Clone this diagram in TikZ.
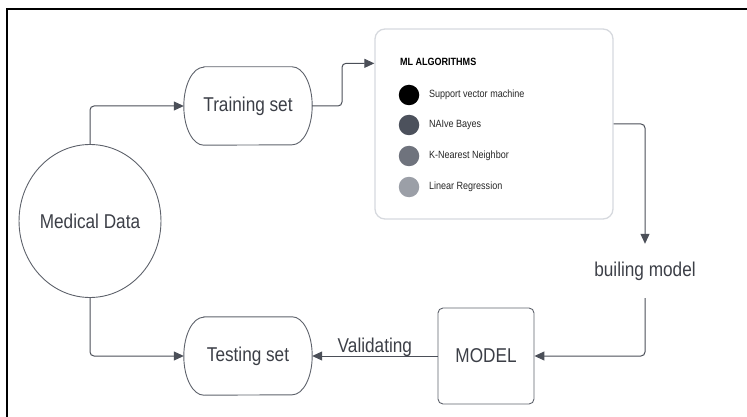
\documentclass[tikz,border=0pt]{standalone}
\usepackage{fontspec}
\setmainfont{Liberation Sans}[FakeStretch=0.86]
\usetikzlibrary{arrows.meta,shapes.geometric,calc}
\definecolor{txt}{HTML}{3C3F47}
\definecolor{ln}{HTML}{4B4F58}
\definecolor{bd}{HTML}{5E626B}
\definecolor{light}{HTML}{D6D9DE}
\definecolor{cA}{HTML}{000000}
\definecolor{cB}{HTML}{4C515C}
\definecolor{cC}{HTML}{6F737D}
\definecolor{cD}{HTML}{9B9FA7}
\begin{document}
\begin{tikzpicture}[x=1pt,y=-1pt,
  lbl/.style={font=\fontsize{20pt}{24pt}\selectfont, text=txt},
  small/.style={font=\fontsize{10.5pt}{12pt}\selectfont, text=black!85, anchor=west},
  mltitle/.style={font=\fontsize{10.5pt}{12pt}\selectfont\bfseries, text=black, anchor=west},
  dot/.style={circle, minimum size=20.5pt, inner sep=0pt},
  arr/.style={draw=ln, line width=1pt, -{Triangle[length=10pt,width=9pt]}, rounded corners=4pt},
  stadium/.style={draw=bd, line width=0.9pt},
  plainbox/.style={lbl, minimum width=128pt, minimum height=78pt, inner sep=0pt}]
\useasboundingbox (0,0) rectangle (747,417);
\draw[line width=2.5pt] (7,417) -- (7,9) -- (747,9);

% nodes
\node[lbl, draw=bd, line width=0.9pt, ellipse, minimum width=127pt, minimum height=153pt, inner sep=0pt] (med) at (90,221) {Medical Data};
\node[plainbox] (train) at (248,106) {Training set};
\node[plainbox] (test) at (248,356) {Testing set};
\foreach \n in {train,test}{
  \draw[stadium] ([xshift=20pt]\n.north west) -- ([xshift=-20pt]\n.north east)
    arc[start angle=90,end angle=-90,x radius=20pt,y radius=39pt]
    -- ([xshift=20pt]\n.south west)
    arc[start angle=270,end angle=90,x radius=20pt,y radius=39pt] -- cycle;
}
\node[draw=light, line width=1.3pt, rounded corners=10pt, minimum width=238pt, minimum height=190pt, inner sep=0pt] (ml) at (494,124) {};
\node[mltitle] (mlt) at (396.5,62) {ML ALGORITHMS};
\node[dot, fill=cA] (c1) at (409,95) {};
\node[dot, fill=cB] (c2) at (409,125) {};
\node[dot, fill=cC] (c3) at (409,156) {};
\node[dot, fill=cD] (c4) at (409,187) {};
\node[small] (t1) at (425.5,95) {Support vector machine};
\node[small] (t2) at (425.5,125) {NAIve Bayes};
\node[small] (t3) at (425.5,156) {K-Nearest Neighbor};
\node[small] (t4) at (425.5,187) {Linear Regression};
\node[lbl, draw=bd, line width=0.9pt, rounded corners=5pt, minimum width=96pt, minimum height=96pt, inner sep=0pt] (model) at (486,356) {MODEL};
\node[lbl, minimum height=54pt, inner sep=0pt] (bm) at (645,271) {builing model};

% connectors
\coordinate (kink) at (342,0);
\coordinate (mlin) at ($(ml.north west)+(0,35)$);
\draw[arr] (med.north) |- (train.west);
\draw[arr] (med.south) |- (test.west);
\draw[arr] (train.east) -- (train.east -| kink) |- (mlin);
\draw[arr] (ml.east) -| (bm.north);
\draw[arr] (bm.south) |- (model.east);
\draw[arr] (model.west) -- node[lbl, anchor=base, yshift=4pt, inner sep=0pt] (val) {Validating} (test.east);
\end{tikzpicture}
\end{document}
